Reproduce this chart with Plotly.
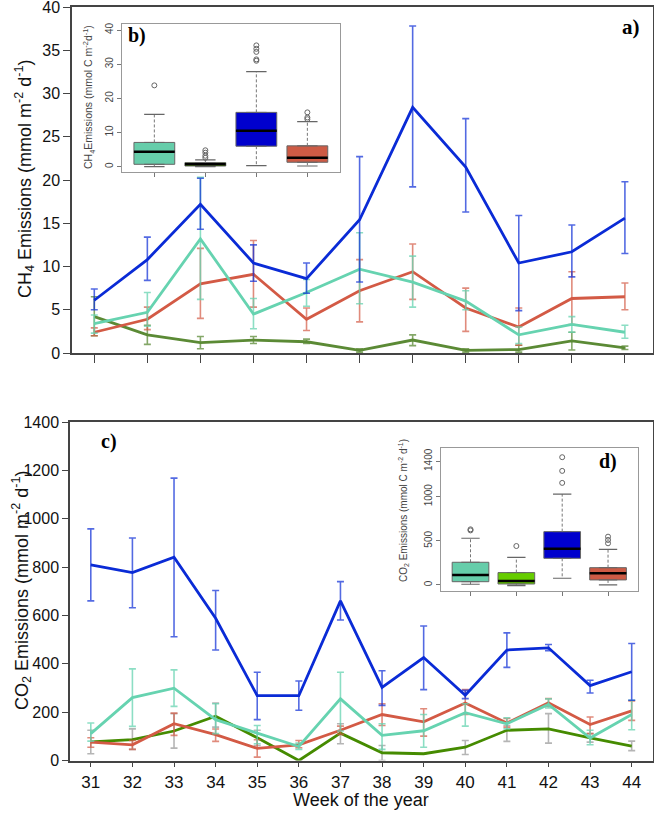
import plotly.graph_objects as go

# colour scheme
blue = "#0a2bd6"
teal = "#66d3b0"
red = "#d35a45"
green_ch4 = "#5b8a35"
green_co2 = "#458b00"
grey_err = "#b5b5b5"

box_cols = ["#66cdaa", "#66cd00", "#0000cd", "#cd5b45"]

# --- CH4 panel (a) ---
ch4_x = [1, 2, 3, 4, 5, 6, 7, 8, 9, 10, 11]
ch4_blue = [6.1, 10.8, 17.2, 10.4, 8.6, 15.4, 28.4, 21.5, 10.4, 11.7, 15.6]
ch4_blue_lo = [5.0, 8.4, 14.3, 8.3, 6.9, 8.2, 19.2, 16.3, 4.9, 8.8, 11.5]
ch4_blue_hi = [7.4, 13.4, 20.2, 12.5, 10.4, 22.7, 37.8, 27.1, 15.9, 14.8, 19.8]
ch4_teal = [3.4, 4.7, 13.2, 4.5, 7.0, 9.7, 8.2, 6.0, 2.1, 3.3, 2.4]
ch4_teal_lo = [2.3, 3.1, 6.2, 2.8, 5.4, 5.7, 5.3, 5.0, 1.1, 2.4, 1.7]
ch4_teal_hi = [4.4, 7.0, 20.3, 6.3, 8.5, 13.9, 11.2, 7.2, 3.0, 4.2, 3.2]
ch4_red = [2.4, 3.9, 8.0, 9.1, 3.9, 7.2, 9.4, 5.2, 3.0, 6.3, 6.5]
ch4_red_lo = [2.0, 2.7, 4.0, 5.3, 2.6, 3.6, 6.2, 2.5, 0.9, 3.3, 5.0]
ch4_red_hi = [2.9, 5.3, 12.1, 13.0, 5.2, 10.8, 12.6, 7.5, 5.2, 9.4, 8.1]
ch4_green = [4.2, 2.1, 1.2, 1.5, 1.3, 0.3, 1.5, 0.3, 0.4, 1.4, 0.6]
ch4_green_lo = [2.0, 1.0, 0.5, 1.1, 1.1, 0.1, 0.85, 0.1, 0.1, 0.35, 0.4]
ch4_green_hi = [6.5, 3.2, 1.9, 1.9, 1.6, 0.5, 2.1, 0.5, 0.9, 2.4, 0.8]

# --- CO2 panel (c) ---
weeks = [31, 32, 33, 34, 35, 36, 37, 38, 39, 40, 41, 42, 43, 44]
co2_blue = [809, 777, 841, 588, 268, 268, 660, 302, 426, 270, 457, 466, 310, 367]
co2_blue_lo = [660, 632, 512, 457, 169, 208, 581, 228, 293, 256, 385, 454, 279, 249]
co2_blue_hi = [958, 920, 1168, 703, 365, 329, 740, 371, 556, 290, 528, 480, 332, 484]
co2_teal = [111, 260, 299, 169, 113, 58, 255, 104, 123, 198, 152, 232, 93, 190]
co2_teal_lo = [80, 141, 224, 111, 69, 46, 122, 46, 55, 142, 131, 217, 65, 127]
co2_teal_hi = [155, 379, 375, 235, 145, 72, 365, 152, 190, 235, 177, 255, 125, 249]
co2_red = [76, 65, 152, 107, 50, 65, 125, 190, 160, 238, 155, 239, 149, 205]
co2_red_lo = [55, 46, 104, 79, 14, 53, 108, 145, 101, 190, 138, 224, 111, 166]
co2_red_hi = [94, 83, 196, 130, 86, 83, 142, 235, 214, 293, 174, 256, 180, 246]
co2_green = [77, 86, 122, 183, 94, 0, 113, 32, 28, 55, 125, 131, 94, 59]
co2_green_lo = [28, 46, 51, 138, 62, 0, 69, 0, 28, 25, 79, 72, 76, 41]
co2_green_hi = [125, 131, 194, 238, 125, 0, 152, 62, 28, 83, 145, 194, 111, 80]

# --- inset boxplots (b: CH4, d: CO2) ---
box_pos = [1, 2, 3, 4]
b_lo = [0.0, 0.0, 0.3, 0.2]
b_q1 = [0.7, 0.2, 6.0, 1.3]
b_med = [4.4, 0.7, 10.5, 2.6]
b_q3 = [7.1, 1.2, 15.9, 6.1]
b_hi = [15.3, 2.0, 27.8, 13.2]
b_out = [[23.8], [2.6, 3.2, 4.1, 4.8], [31.0, 31.4, 33.6, 34.5, 35.5], [13.9, 14.4, 15.9]]

d_lo = [8, -8, 76, 0]
d_q1 = [37, 11, 302, 57]
d_med = [113, 45, 411, 132]
d_q3 = [257, 140, 604, 196]
d_hi = [529, 313, 1030, 404]
d_out = [[618, 630], [441], [1156, 1292, 1447], [472, 510, 547]]

W, H = 654, 813
def px(v):
    return v / W
def py(v):
    return 1 - v / H

fig = go.Figure()

def add_series(x, y, lo, hi, col, ecol, xa, ya, width=2.8):
    fig.add_trace(go.Scatter(
        x=x, y=y, mode="lines", xaxis=xa, yaxis=ya,
        line=dict(color=col, width=width),
        error_y=dict(type="data", symmetric=False,
                     array=[h - v for h, v in zip(hi, y)],
                     arrayminus=[v - l for l, v in zip(lo, y)],
                     color=ecol, thickness=1.6, width=3.5),
        showlegend=False))

def fade(c, a):
    c = c.lstrip("#")
    return "rgba(%d,%d,%d,%s)" % (int(c[0:2], 16), int(c[2:4], 16), int(c[4:6], 16), a)

add_series(ch4_x, ch4_green, ch4_green_lo, ch4_green_hi, green_ch4, fade(green_ch4, 0.75), "x", "y")
add_series(ch4_x, ch4_red, ch4_red_lo, ch4_red_hi, red, fade(red, 0.7), "x", "y")
add_series(ch4_x, ch4_teal, ch4_teal_lo, ch4_teal_hi, teal, fade(teal, 0.75), "x", "y")
add_series(ch4_x, ch4_blue, ch4_blue_lo, ch4_blue_hi, blue, fade(blue, 0.7), "x", "y")

add_series(weeks, co2_green, co2_green_lo, co2_green_hi, green_co2, grey_err, "x2", "y2")
add_series(weeks, co2_red, co2_red_lo, co2_red_hi, red, fade(red, 0.7), "x2", "y2")
add_series(weeks, co2_teal, co2_teal_lo, co2_teal_hi, teal, fade(teal, 0.75), "x2", "y2")
add_series(weeks, co2_blue, co2_blue_lo, co2_blue_hi, blue, fade(blue, 0.7), "x2", "y2")

def add_boxes(lo, q1, med, q3, hi, outs, xa, ya):
    half = 0.4
    for i, p in enumerate(box_pos):
        # dashed whiskers
        fig.add_trace(go.Scatter(
            x=[p, p, None, p, p], y=[q3[i], hi[i], None, q1[i], lo[i]],
            mode="lines", xaxis=xa, yaxis=ya,
            line=dict(color="#777777", width=1, dash="3px,2px"), showlegend=False))
        # staples
        fig.add_trace(go.Scatter(
            x=[p - half / 2, p + half / 2, None, p - half / 2, p + half / 2],
            y=[hi[i], hi[i], None, lo[i], lo[i]],
            mode="lines", xaxis=xa, yaxis=ya,
            line=dict(color="#666666", width=1.2), showlegend=False))
        fig.add_trace(go.Box(
            x=[p], q1=[q1[i]], median=[med[i]], q3=[q3[i]],
            lowerfence=[q1[i]], upperfence=[q3[i]],
            width=0.8, xaxis=xa, yaxis=ya, fillcolor=box_cols[i],
            line=dict(color="#666666", width=1), showlegend=False))
        # median
        fig.add_trace(go.Scatter(
            x=[p - half, p + half], y=[med[i], med[i]], mode="lines",
            xaxis=xa, yaxis=ya, line=dict(color="black", width=2.5), showlegend=False))
        fig.add_trace(go.Scatter(
            x=[p] * len(outs[i]), y=outs[i], mode="markers", xaxis=xa, yaxis=ya,
            marker=dict(symbol="circle-open", size=5, color="#666666", line=dict(width=1)),
            showlegend=False))

add_boxes(b_lo, b_q1, b_med, b_q3, b_hi, b_out, "x3", "y3")
add_boxes(d_lo, d_q1, d_med, d_q3, d_hi, d_out, "x4", "y4")

axis_font = dict(family="Liberation Sans, Arial, sans-serif", size=16, color="#111111")
small_font = dict(family="Liberation Sans, Arial, sans-serif", size=10, color="#444444")
frame = dict(showline=True, mirror=True, linecolor="#444444", linewidth=1.5,
             showgrid=False, zeroline=False, ticks="outside", tickcolor="#444444",
             automargin=False, ticklabeloverflow="allow")
inset_frame = dict(showline=True, mirror=True, linecolor="#999999", linewidth=1,
                   showgrid=False, zeroline=False, ticks="outside", tickcolor="#777777",
                   ticklen=4, automargin=False, ticklabeloverflow="allow")

fig.update_layout(
    width=W, height=H,
    margin=dict(l=0, r=0, t=0, b=0),
    paper_bgcolor="white", plot_bgcolor="white",
    font=axis_font,
    xaxis=dict(frame, domain=[px(72), px(652.5)], range=[0.58, 11.52], anchor="y",
               tickvals=ch4_x, showticklabels=False, ticklen=8),
    yaxis=dict(frame, domain=[py(353), py(7)], range=[0, 40], anchor="x",
               dtick=5, ticklen=7, tickfont=axis_font),
    xaxis2=dict(frame, domain=[px(70), px(652.5)], range=[30.5, 44.5], anchor="y2",
                tickvals=weeks, ticklen=5, tickfont=dict(axis_font, size=17)),
    yaxis2=dict(frame, domain=[py(760.5), py(422)], range=[0, 1400], anchor="x2",
                dtick=200, ticklen=6, tickfont=axis_font),
    xaxis3=dict(inset_frame, domain=[px(121.7), px(340)], range=[0.36, 4.64], anchor="y3",
                tickvals=box_pos, showticklabels=False),
    yaxis3=dict(inset_frame, domain=[py(172.3), py(24.3)], range=[-1.64, 41.67], anchor="x3",
                tickvals=[0, 10, 20, 30, 40], tickangle=-90, tickfont=small_font),
    xaxis4=dict(inset_frame, domain=[px(440.7), px(638.3)], range=[0.35, 4.66], anchor="y4",
                tickvals=box_pos, showticklabels=False),
    yaxis4=dict(inset_frame, domain=[py(590.7), py(447.5)], range=[-65, 1557], anchor="x4",
                tickvals=[0, 500, 1000, 1400], tickangle=-90, tickfont=small_font),
)

serif_bold = dict(family="Liberation Serif, Times New Roman, serif", size=21, color="black")
ann = [
    dict(text="<b>a)</b>", x=px(631), y=py(27), font=serif_bold),
    dict(text="<b>b)</b>", x=px(137), y=py(36), font=dict(serif_bold, size=20)),
    dict(text="<b>c)</b>", x=px(109), y=py(442), font=dict(serif_bold, size=20)),
    dict(text="<b>d)</b>", x=px(608), y=py(462), font=dict(serif_bold, size=20)),
    dict(text="CH<sub>4</sub> Emissions (mmol m<sup>-2</sup> d<sup>-1</sup>)",
         x=px(24), y=py(179), textangle=-90, font=dict(axis_font, size=18)),
    dict(text="CO<sub>2</sub> Emissions (mmol m<sup>-2</sup> d<sup>-1</sup>)",
         x=px(21), y=py(591), textangle=-90, font=dict(axis_font, size=18)),
    dict(text="Week of the year", x=px(361), y=py(800), font=dict(axis_font, size=18)),
    dict(text="CH<sub>4</sub>Emissions (mmol C m<sup>-2</sup>d<sup>-1</sup>)",
         x=px(89), y=py(97), textangle=-90, font=dict(small_font, size=10.5)),
    dict(text="CO<sub>2</sub> Emissions (mmol C m<sup>-2</sup> d<sup>-1</sup>)",
         x=px(403), y=py(511), textangle=-90, font=dict(small_font, size=10)),
]
for a in ann:
    a.update(xref="paper", yref="paper", showarrow=False, xanchor="center", yanchor="middle")
fig.update_layout(annotations=ann)

# the page body has a default margin; drop it so the figure sits at the window origin
fig.write_html("out.html", config={"displayModeBar": False},
               post_script="document.body.style.margin='0';document.body.style.overflow='hidden';")
